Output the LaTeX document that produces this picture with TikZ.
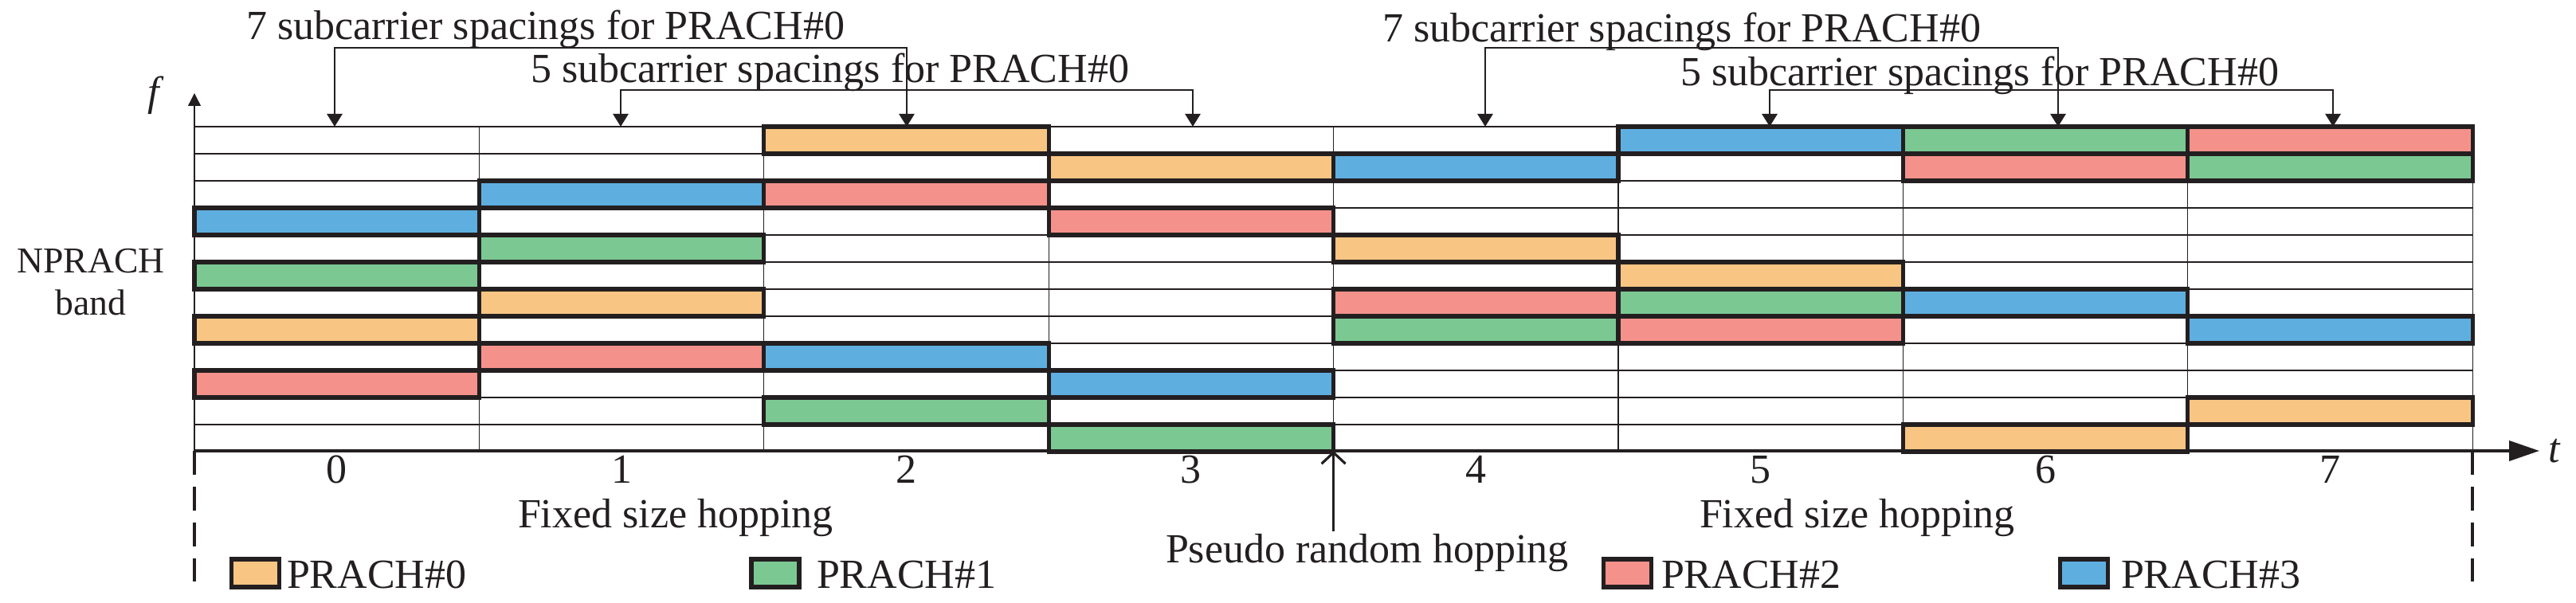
\documentclass[tikz,border=0pt]{standalone}
\usepackage{fontspec}
\setmainfont{Liberation Serif}
\usetikzlibrary{arrows.meta}
\definecolor{cO}{HTML}{F8C583}
\definecolor{cG}{HTML}{7BC893}
\definecolor{cR}{HTML}{F5918B}
\definecolor{cB}{HTML}{5EAFE0}
\definecolor{ink}{HTML}{231F20}
\begin{document}
\begin{tikzpicture}[x=1cm,y=1cm,
  txt/.style={font=\fontsize{14.8pt}{18pt}\selectfont, inner sep=0pt, outer sep=0pt, text=ink},
  smalltxt/.style={font=\fontsize{13pt}{15pt}\selectfont, inner sep=0pt, outer sep=0pt, text=ink},
  gridln/.style={line width=0.35pt, draw=ink},
  blk/.style={draw=ink, line width=1.5pt, minimum width=3.574cm, minimum height=0.34cm, inner sep=0pt, outer sep=0pt},
  legbox/.style={draw=ink, line width=1.5pt, minimum width=0.6cm, minimum height=0.35cm, inner sep=0pt, outer sep=0pt},
  brk/.style={draw=ink, line width=0.8pt, {Triangle[length=0.16cm,width=0.19cm]}-{Triangle[length=0.16cm,width=0.19cm]}},
  faxis/.style={draw=ink, line width=0.4pt, -{Triangle[length=0.16cm,width=0.16cm]}},
  taxis/.style={draw=ink, line width=1.1pt, -{Triangle[length=0.38cm,width=0.25cm]}},
  dashln/.style={draw=ink, line width=1.1pt, dash pattern=on 0.3cm off 0.15cm},
  prarr/.style={draw=ink, line width=0.9pt, -{Straight Barb[length=0.14cm,width=0.3cm]}}
]
\useasboundingbox (0,0) rectangle (32.33,-7.57);

% grid
\foreach \r in {0,...,11}{
  \draw[gridln] (2.44,{-1.59-0.34*\r}) -- (31.03,{-1.59-0.34*\r});
}
\foreach \c in {1,...,8}{
  \draw[gridln] ({2.44+3.574*\c},-1.59) -- ({2.44+3.574*\c},-5.66);
}

% blocks
\foreach \c/\r/\k in {0/7/cO,0/5/cG,0/9/cR,0/3/cB,
                      1/6/cO,1/4/cG,1/8/cR,1/2/cB,
                      2/0/cO,2/10/cG,2/2/cR,2/8/cB,
                      3/1/cO,3/11/cG,3/3/cR,3/9/cB,
                      4/4/cO,4/7/cG,4/6/cR,4/1/cB,
                      5/5/cO,5/6/cG,5/7/cR,5/0/cB,
                      6/11/cO,6/0/cG,6/1/cR,6/6/cB,
                      7/10/cO,7/1/cG,7/0/cR,7/7/cB}{
  \node[blk, fill=\k] (b-\c-\r) at ({2.44+3.574*\c+1.787},{-1.76-0.34*\r}) {};
}

% axes
\coordinate (O) at (2.44,-5.66);
\coordinate (ftip) at (2.44,-1.17);
\coordinate (ttip) at (31.87,-5.66);
\coordinate (R0) at (31.03,-5.66);
\coordinate (dL) at (2.44,-7.30);
\coordinate (dR) at (31.03,-7.30);
\draw[faxis] (O) -- (ftip);
\draw[taxis] (O) -- (ttip);
\draw[dashln] (O) -- (dL);
\draw[dashln] (R0) -- (dR);
\node[txt] (flab) at (1.93,-1.20) {\itshape f};
\node[txt] (tlab) at (32.06,-5.66) {\itshape t};

% slot numbers
\foreach \i in {0,...,7}{
  \node[txt] (n\i) at ({2.44+3.574*\i+1.787},-5.895) {\i};
}

% NPRACH band
\node[smalltxt, anchor=base] (np1) at (1.14,-3.43) {NPRACH};
\node[smalltxt, anchor=base] (np2) at (1.14,-3.96) {band};

% top labels
\node[txt, anchor=base west] (l7a) at (3.09,-0.50) {7 subcarrier spacings for PRACH\#0};
\node[txt, anchor=base west] (l5a) at (6.66,-1.04) {5 subcarrier spacings for PRACH\#0};
\node[txt, anchor=base west] (l7b) at (17.35,-0.53) {7 subcarrier spacings for PRACH\#0};
\node[txt, anchor=base west] (l5b) at (21.09,-1.08) {5 subcarrier spacings for PRACH\#0};

% bracket arrows
\coordinate (h7) at (0,-0.60);
\coordinate (h5) at (0,-1.13);
\coordinate (a7s) at (4.20,-1.59);
\coordinate (a7e) at (11.38,-1.59);
\coordinate (a5s) at (7.79,-1.59);
\coordinate (a5e) at (14.97,-1.59);
\coordinate (b7s) at (18.64,-1.59);
\coordinate (b7e) at (25.83,-1.59);
\coordinate (b5s) at (22.21,-1.59);
\coordinate (b5e) at (29.28,-1.59);
\draw[brk] (a7s) -- (a7s |- h7) -- (a7e |- h7) -- (a7e);
\draw[brk] (a5s) -- (a5s |- h5) -- (a5e |- h5) -- (a5e);
\draw[brk] (b7s) -- (b7s |- h7) -- (b7e |- h7) -- (b7e);
\draw[brk] (b5s) -- (b5s |- h5) -- (b5e |- h5) -- (b5e);

% hopping labels
\node[txt, anchor=base west] (fs1) at (6.50,-6.63) {Fixed size hopping};
\node[txt, anchor=base west] (fs2) at (21.33,-6.63) {Fixed size hopping};
\node[txt, anchor=base west] (prh) at (14.63,-7.07) {Pseudo random hopping};
\coordinate (prs) at (16.736,-6.67);
\coordinate (pre) at (16.736,-5.66);
\draw[prarr] (prs) -- (pre);

% legend
\node[legbox, fill=cO] (k0) at (3.205,-7.195) {};
\node[txt, anchor=base west] (kl0) at (3.60,-7.38) {PRACH\#0};
\node[legbox, fill=cG] (k1) at (9.73,-7.195) {};
\node[txt, anchor=base west] (kl1) at (10.25,-7.38) {PRACH\#1};
\node[legbox, fill=cR] (k2) at (20.425,-7.195) {};
\node[txt, anchor=base west] (kl2) at (20.85,-7.38) {PRACH\#2};
\node[legbox, fill=cB] (k3) at (26.155,-7.195) {};
\node[txt, anchor=base west] (kl3) at (26.62,-7.38) {PRACH\#3};
\end{tikzpicture}
\end{document}
